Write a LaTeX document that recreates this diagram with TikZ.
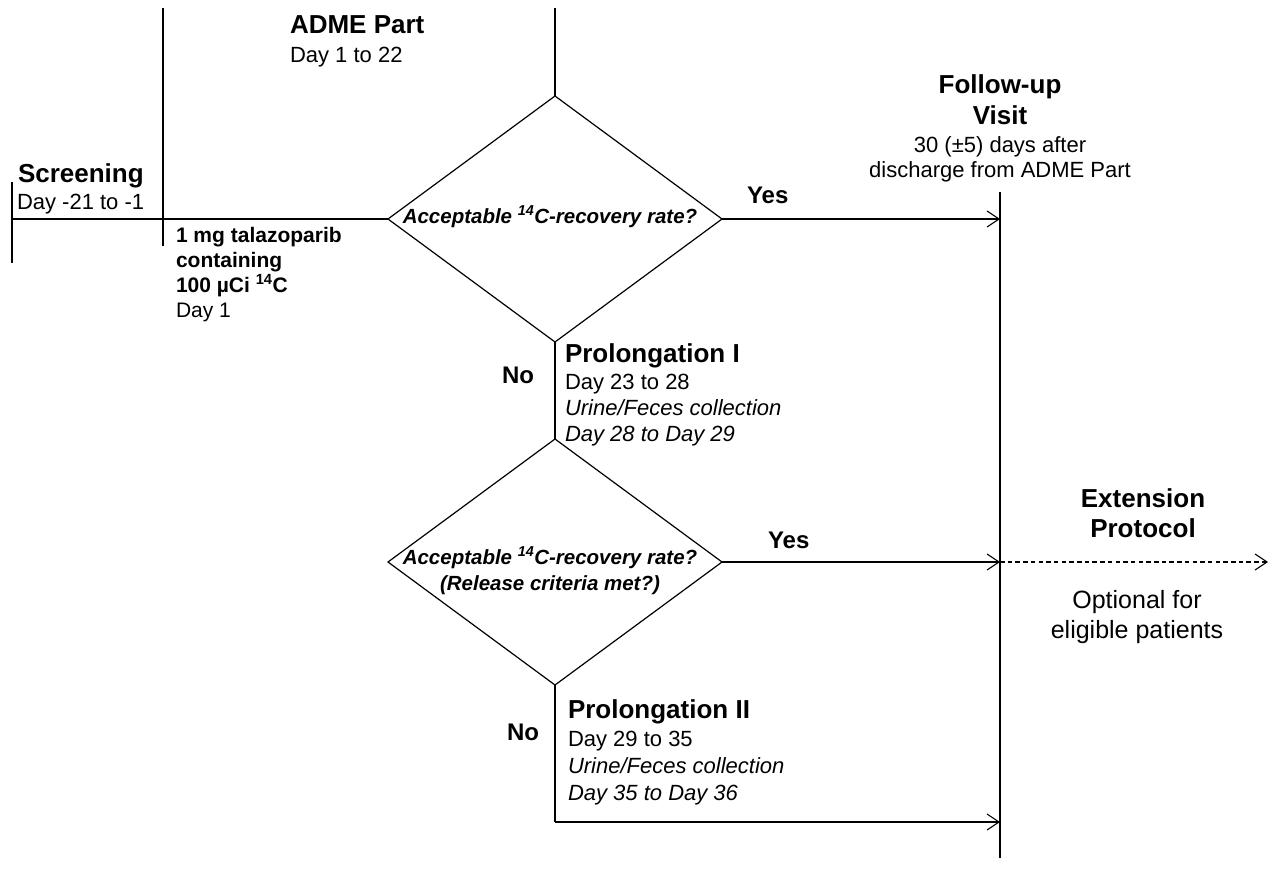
\documentclass[tikz,border=0pt]{standalone}
\usepackage{fontspec}
\setmainfont{Liberation Sans}
\usetikzlibrary{shapes.geometric,arrows.meta}
\begin{document}
\begin{tikzpicture}[x=1pt,y=-1pt,
  line/.style={line width=1.2pt,black},
  arr/.style={line, -{Straight Barb[length=12pt,width=16pt,line width=1.1pt]}},
  dasharr/.style={arr, dash pattern=on 4.5pt off 3.2pt},
  decision/.style={draw,line width=1.2pt,shape=diamond,inner sep=0pt,outer sep=0pt,minimum width=334pt,minimum height=246pt},
  txt/.style={inner sep=0pt,outer sep=0pt,text=black},
  head/.style={txt,font=\fontsize{26}{30}\selectfont\bfseries},
  body/.style={txt,font=\fontsize{22}{26}\selectfont},
  bodyit/.style={txt,font=\fontsize{22}{26}\selectfont\itshape},
  drug/.style={txt,font=\fontsize{21}{25}\selectfont\bfseries},
  drugreg/.style={txt,font=\fontsize{21}{25}\selectfont},
  diam/.style={txt,font=\fontsize{20.5}{24}\selectfont\bfseries\itshape},
  yn/.style={txt,font=\fontsize{24}{28}\selectfont\bfseries},
  opt/.style={txt,font=\fontsize{25}{29}\selectfont}]
\useasboundingbox (0,0) rectangle (1271,878);
\fill[white] (0,0) rectangle (1271,878);

% decisions
\node[decision] (d1) at (555,219) {};
\node[decision] (d2) at (555,562) {};

% coordinates
\coordinate (scrTop) at (12,182);
\coordinate (scrBot) at (12,263);
\coordinate (scrMid) at (12,219);
\coordinate (dosTop) at (163,8);
\coordinate (dosBot) at (163,246);
\coordinate (admTop) at (555,8);
\coordinate (fuTop) at (1000,192);
\coordinate (fuBot) at (1000,858);
\coordinate (fu1) at (1000,219);
\coordinate (fu2) at (1000,562);
\coordinate (extEnd) at (1268,562);
\coordinate (corner) at (555,822);
\coordinate (fu3) at (1000,822);

% lines
\draw[line] (scrTop) -- (scrBot);
\draw[line] (dosTop) -- (dosBot);
\draw[line] (scrMid) -- (d1.west);
\draw[line] (admTop) -- (d1.north);
\draw[line] (fuTop) -- (fuBot);
\draw[arr] (d1.east) -- (fu1);
\draw[line] (d1.south) -- (d2.north);
\draw[arr] (d2.east) -- (fu2);
\draw[dasharr] (fu2) -- (extEnd);
\draw[line] (d2.south) -- (corner);
\draw[arr] (corner) -- (fu3);

% texts
\node[head,anchor=base west] (scr) at (18,182) {Screening};
\node[body,anchor=base west] (scrd) at (17,209) {Day -21 to -1};
\node[head,anchor=base west] (adme) at (290,33) {ADME Part};
\node[body,anchor=base west] (admed) at (290,62) {Day 1 to 22};
\node[drug,anchor=base west] (dr1) at (176,242) {1 mg talazoparib};
\node[drug,anchor=base west] (dr2) at (176,267) {containing};
\node[drug,anchor=base west] (dr3) at (176,292) {100 µCi \textsuperscript{14}C};
\node[drugreg,anchor=base west] (dr4) at (176,317) {Day 1};

\node[diam,anchor=base] (q1) at (550,223) {Acceptable \textsuperscript{14}C-recovery rate?};
\node[yn,anchor=base west] (y1) at (747,203) {Yes};

\node[head,anchor=base] (fu1a) at (1000,93) {Follow-up};
\node[head,anchor=base] (fu1b) at (1000,124) {Visit};
\node[body,anchor=base] (fu1c) at (1000,152) {30 (±5) days after};
\node[body,anchor=base] (fu1d) at (1000,177) {discharge from ADME Part};

\node[yn,anchor=base west] (n1) at (502,383) {No};
\node[head,anchor=base west] (p1a) at (565,362) {Prolongation I};
\node[body,anchor=base west] (p1b) at (565,389) {Day 23 to 28};
\node[bodyit,anchor=base west] (p1c) at (565,415) {Urine/Feces collection};
\node[bodyit,anchor=base west] (p1d) at (565,441) {Day 28 to Day 29};

\node[diam,anchor=base] (q2a) at (550,564) {Acceptable \textsuperscript{14}C-recovery rate?};
\node[diam,anchor=base] (q2b) at (550,590) {(Release criteria met?)};
\node[yn,anchor=base west] (y2) at (768,548) {Yes};

\node[head,anchor=base] (ex1) at (1143,507) {Extension};
\node[head,anchor=base] (ex2) at (1143,537) {Protocol};
\node[opt,anchor=base] (op1) at (1137,608) {Optional for};
\node[opt,anchor=base] (op2) at (1137,638) {eligible patients};

\node[yn,anchor=base west] (n2) at (507,740) {No};
\node[head,anchor=base west] (p2a) at (568,718) {Prolongation II};
\node[body,anchor=base west] (p2b) at (568,746) {Day 29 to 35};
\node[bodyit,anchor=base west] (p2c) at (568,773) {Urine/Feces collection};
\node[bodyit,anchor=base west] (p2d) at (568,800) {Day 35 to Day 36};
\end{tikzpicture}
\end{document}
